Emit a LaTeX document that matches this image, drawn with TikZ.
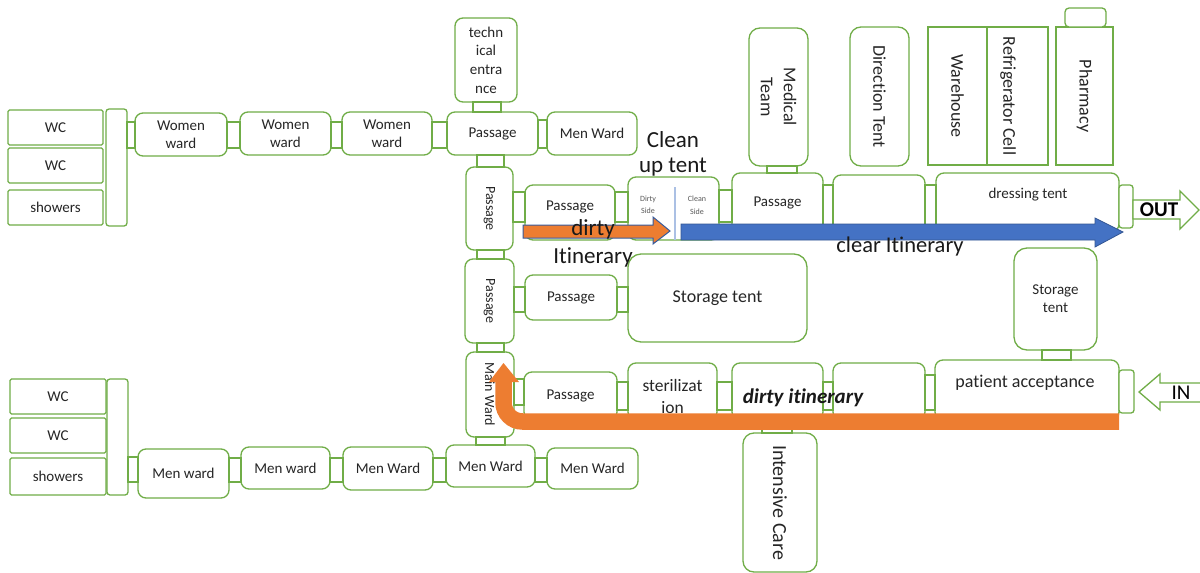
\documentclass[tikz,border=0pt]{standalone}
\usepackage{fontspec}
\setmainfont{Carlito}[Ligatures={NoCommon}]
\usetikzlibrary{calc}
\definecolor{grn}{HTML}{70AD47}
\definecolor{org}{HTML}{ED7D31}
\definecolor{blu}{HTML}{4472C4}
\definecolor{txt}{HTML}{262626}
\newcommand\roombox[7]{\node[#6, minimum width={#4-#2}, minimum height={#5-#3}] (#1) at ({(#2+#4)/2},{(#3+#5)/2}) {#7};}
\newcommand\vroombox[7]{\node[#6, rotate=-90, minimum width={#5-#3}, minimum height={#4-#2}] (#1) at ({(#2+#4)/2},{(#3+#5)/2}) {#7};}
\tikzset{
  room/.style={draw=grn, line width=1.3, fill=white, rounded corners=8, inner sep=1, outer sep=0, align=center, text=txt, font=\fontsize{15}{17.5}\selectfont},
  sq/.style={room, rounded corners=1.5},
  conn/.style={draw=grn, line width=1.1, fill=white},
  lbl/.style={inner sep=0, text=txt, align=center, font=\fontsize{15}{17.5}\selectfont},
  fs14/.style={font=\fontsize{14}{16}\selectfont},
  fs18/.style={font=\fontsize{18}{22}\selectfont},
  big/.style={inner sep=0, text=black!90, font=\fontsize{23}{26}\selectfont},
}
\begin{document}
\begin{tikzpicture}[x=1pt, y=-1pt]
\useasboundingbox (0,0) rectangle (1200,573);
\fill[white] (0,0) rectangle (1200,573);
% top-left
\roombox{wc1}{8}{110}{103}{145}{sq}{WC}
\roombox{wc2}{8}{148}{103}{183}{sq}{WC}
\roombox{sh1}{8}{190}{103}{225}{sq}{showers}
\roombox{st1}{106}{109}{127}{226}{sq, rounded corners=3}{}
\roombox{ww1}{135}{113}{227}{156}{room}{Women\\ward}
\roombox{ww2}{240}{112}{331}{155}{room}{Women\\ward}
\roombox{ww3}{342}{112}{432}{155}{room}{Women\\ward}
\roombox{pasT}{447}{112}{538}{155}{room}{Passage}
\roombox{tech}{455}{18}{517}{102}{room, font=\fontsize{15}{18.7}\selectfont}{techn\\ical\\entra\\nce}
\roombox{mwT}{547}{112}{637}{155}{room}{Men Ward}
\vroombox{vp1}{466}{167}{513}{250}{room, fs14}{Passage}
\roombox{pas2}{525}{185}{615}{240}{room}{}
\roombox{cut}{628}{177}{719}{240}{room}{}
\roombox{pasM}{732}{173}{823}{232}{room}{Passage}
\vroombox{med}{749}{28}{808}{166}{room, rounded corners=11, font=\fontsize{18}{23}\selectfont}{Medical\\Team}
\roombox{e1}{833}{175}{925}{232}{room}{}
\vroombox{dir}{850}{27}{909}{166}{room, rounded corners=11, fs18}{Direction Tent}
\roombox{dress}{936}{173}{1119}{232}{room}{}
\roombox{outc}{1119}{185}{1133}{228}{room, rounded corners=3}{}
\vroombox{ware}{928}{27}{987}{165}{room, rounded corners=0, fs18}{Warehouse}
\vroombox{refr}{987}{27}{1048}{165}{room, rounded corners=0}{}
\vroombox{phar}{1056}{27}{1113}{165}{room, rounded corners=0, fs18}{Pharmacy}
\roombox{phtop}{1065}{8}{1106}{27}{room, rounded corners=4}{}
% middle
\vroombox{vp2}{465}{259}{514}{343}{room, fs14}{Passage}
\roombox{pas3}{525}{275}{617}{320}{room}{Passage}
\roombox{stor}{628}{254}{807}{342}{room, rounded corners=13, fs18}{Storage tent}
\vroombox{mainw}{466}{352}{514}{437}{room, fs14}{Main Ward}
\roombox{pas4}{524}{372}{617}{420}{room}{Passage}
\roombox{ster}{628}{363}{717}{420}{room}{}
\roombox{e2}{732}{363}{823}{420}{room}{}
\roombox{e3}{833}{363}{925}{420}{room}{}
\roombox{pacc}{935}{360}{1119}{420}{room}{}
\roombox{inc}{1119}{370}{1134}{413}{room, rounded corners=3}{}
\roombox{stor2}{1014}{248}{1097}{350}{room, rounded corners=13, font=\fontsize{15}{18}\selectfont}{Storage\\tent}
\vroombox{icu}{743}{433}{817}{572}{room, rounded corners=11, font=\fontsize{20}{24}\selectfont}{Intensive Care}
% bottom-left
\roombox{wc3}{10}{379}{106}{414}{sq}{WC}
\roombox{wc4}{10}{418}{106}{453}{sq}{WC}
\roombox{sh2}{10}{458}{106}{495}{sq}{showers}
\roombox{st2}{107}{379}{128}{495}{sq, rounded corners=3}{}
\roombox{mw1}{138}{449}{229}{498}{room}{Men ward}
\roombox{mw2}{241}{447}{330}{489}{room}{Men ward}
\roombox{mw3}{343}{447}{433}{490}{room}{Men Ward}
\roombox{mw4}{446}{445}{535}{487}{room}{Men Ward}
\roombox{mw5}{547}{448}{638}{489}{room}{Men Ward}
% connectors
\draw[conn] (st1.east |- 0,122) rectangle (ww1.west |- 0,148);
\draw[conn] (ww1.east |- 0,122) rectangle (ww2.west |- 0,148);
\draw[conn] (ww2.east |- 0,122) rectangle (ww3.west |- 0,148);
\draw[conn] (ww3.east |- 0,122) rectangle (pasT.west |- 0,148);
\draw[conn] (pasT.east |- 0,120) rectangle (mwT.west |- 0,148);
\draw[conn] (473,0 |- tech.south) rectangle (501,0 |- pasT.north);
\draw[conn] (477,0 |- pasT.south) rectangle (504,0 |- vp1.west);
\draw[conn] (vp1.north |- 0,192) rectangle (pas2.west |- 0,222);
\draw[conn] (pas2.east |- 0,192) rectangle (cut.west |- 0,222);
\draw[conn] (cut.east |- 0,190) rectangle (pasM.west |- 0,222);
\draw[conn] (767,0 |- med.east) rectangle (797,0 |- pasM.north);
\draw[conn] (pasM.east |- 0,185) rectangle (e1.west |- 0,225);
\draw[conn] (e1.east |- 0,185) rectangle (dress.west |- 0,225);
\draw[conn] (477,0 |- vp1.east) rectangle (504,0 |- vp2.west);
\draw[conn] (vp2.north |- 0,287) rectangle (pas3.west |- 0,312);
\draw[conn] (pas3.east |- 0,287) rectangle (stor.west |- 0,312);
\draw[conn] (477,0 |- vp2.east) rectangle (504,0 |- mainw.west);
\draw[conn] (mainw.north |- 0,379) rectangle (pas4.west |- 0,405);
\draw[conn] (pas4.east |- 0,382) rectangle (ster.west |- 0,410);
\draw[conn] (ster.east |- 0,382) rectangle (e2.west |- 0,410);
\draw[conn] (e2.east |- 0,382) rectangle (e3.west |- 0,410);
\draw[conn] (e3.east |- 0,375) rectangle (pacc.west |- 0,410);
\draw[conn] (1042,0 |- stor2.south) rectangle (1071,0 |- pacc.north);
\draw[conn] (762,0 |- e2.south) rectangle (792,0 |- icu.west);
\draw[conn] (476,0 |- mainw.east) rectangle (505,0 |- mw4.north);
\draw[conn] (st2.east |- 0,457) rectangle (mw1.west |- 0,482);
\draw[conn] (mw1.east |- 0,458) rectangle (mw2.west |- 0,482);
\draw[conn] (mw2.east |- 0,458) rectangle (mw3.west |- 0,482);
\draw[conn] (mw3.east |- 0,458) rectangle (mw4.west |- 0,482);
\draw[conn] (mw4.east |- 0,458) rectangle (mw5.west |- 0,482);
% box texts placed off-centre
\node[lbl] (tpas2) at (570,207) {Passage};
\node[lbl] (tdress) at (1028,195) {dressing tent};
\node[lbl, fs18] (tpacc) at (1025,383) {patient acceptance};
\node[lbl, font=\fontsize{17.5}{22}\selectfont] (tster) at (672.5,396) {sterilizat\\ion};
\node[lbl, fs18, rotate=-90] (trefr) at (1008,96) {Refrigerator Cell};
\node[lbl, text=black!65, font=\fontsize{8}{12.5}\selectfont] (tdside) at (648,205) {Dirty\\Side};
\node[lbl, text=black!65, font=\fontsize{8}{12.5}\selectfont] (tcside) at (697,205) {Clean\\Side};
\draw[blu!45, line width=1.5] (675,0 |- cut.north) ++(0,10) -- (675,0 |- cut.south);
% in / out arrows
\filldraw[draw=grn, line width=1.3, fill=white] (outc.east |- 0,200) -- (1180,200) -- (1180,191) -- (1199,210) -- (1180,229) -- (1180,219) -- (outc.east |- 0,219) -- cycle;
\filldraw[draw=grn, line width=1.3, fill=white] (1205,383) -- (1160,383) -- (1160,374) -- (1139,392) -- (1160,410) -- (1160,402) -- (1205,402);
\node[inner sep=0, font=\bfseries\fontsize{21}{24}\selectfont] (tout) at (1159,210) {OUT};
\node[inner sep=0, font=\fontsize{21}{24}\selectfont] (tin) at (1181,393) {IN};
% itineraries
\filldraw[fill=blu, draw=blu!75!black, line width=0.8] (681,224) -- (1095,224) -- (1095,218) -- (1123,232) -- (1095,247) -- (1095,240) -- (681,240) -- cycle;
\filldraw[fill=org, draw=blu!80!black, line width=1] (523,225) -- (653,225) -- (653,217) -- (670,231) -- (653,244) -- (653,238) -- (523,238) -- cycle;
\draw[org, line width=16.5, rounded corners=19] (pacc.east |- 0,421.5) -- (503.5,421.5) -- (503.5,381);
\fill[org] (489,382) -- (503.5,363) -- (519,382) -- cycle;
% big labels
\node[big, anchor=base] (tclean) at (673,147) {Clean};
\node[big, anchor=base] (tup) at (673,172) {up tent};
\node[big, anchor=base] (tdirt) at (593,235) {dirty};
\node[big, anchor=base] (titin) at (593,263) {Itinerary};
\node[big, anchor=base, font=\fontsize{22.5}{26}\selectfont] (tclear) at (900,252) {clear Itinerary};
\node[big, anchor=base, font=\bfseries\itshape\fontsize{21}{24}\selectfont] (tdi) at (803,403) {dirty itinerary};
\end{tikzpicture}
\end{document}
